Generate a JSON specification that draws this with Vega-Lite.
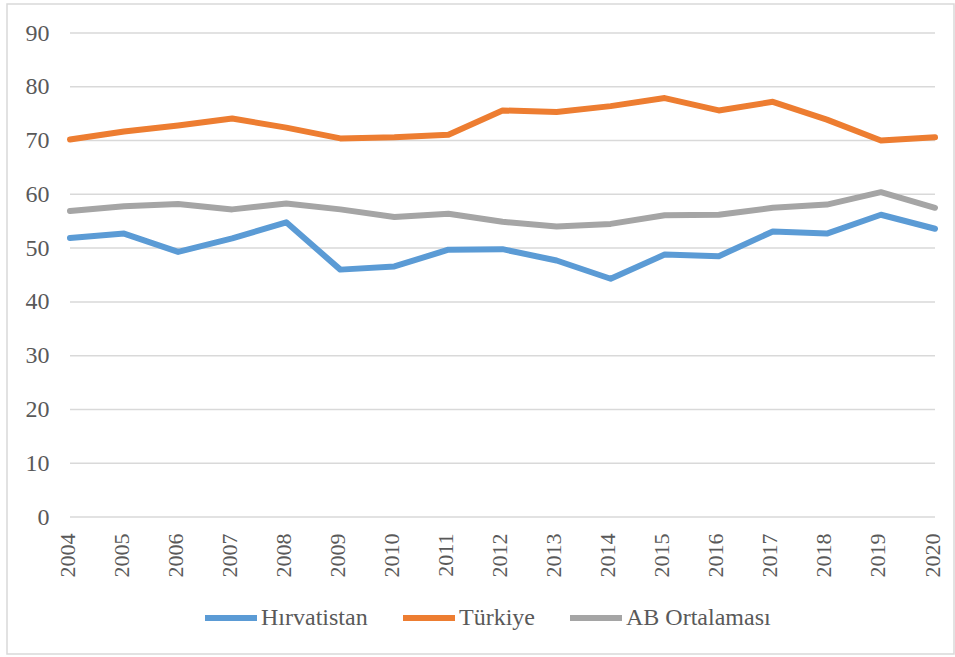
{
  "$schema": "https://vega.github.io/schema/vega-lite/v6.json",
  "autosize": {"type": "none"},
  "padding": {"left": 7, "top": 4, "right": 1, "bottom": 3},
  "width": 947,
  "height": 650,
  "background": "white",
  "config": {
    "view": {"stroke": "#d9d9d9", "strokeWidth": 1.5},
    "font": "'Liberation Serif', serif"
  },
  "datasets": {
    "grid": [{"g": 0}, {"g": 10}, {"g": 20}, {"g": 30}, {"g": 40}, {"g": 50}, {"g": 60}, {"g": 70}, {"g": 80}, {"g": 90}],
    "series": [
      {"yil": 2004, "ulke": "Hırvatistan", "deger": 51.9},
      {"yil": 2005, "ulke": "Hırvatistan", "deger": 52.7},
      {"yil": 2006, "ulke": "Hırvatistan", "deger": 49.3},
      {"yil": 2007, "ulke": "Hırvatistan", "deger": 51.8},
      {"yil": 2008, "ulke": "Hırvatistan", "deger": 54.8},
      {"yil": 2009, "ulke": "Hırvatistan", "deger": 46.0},
      {"yil": 2010, "ulke": "Hırvatistan", "deger": 46.6},
      {"yil": 2011, "ulke": "Hırvatistan", "deger": 49.7},
      {"yil": 2012, "ulke": "Hırvatistan", "deger": 49.8},
      {"yil": 2013, "ulke": "Hırvatistan", "deger": 47.7},
      {"yil": 2014, "ulke": "Hırvatistan", "deger": 44.3},
      {"yil": 2015, "ulke": "Hırvatistan", "deger": 48.8},
      {"yil": 2016, "ulke": "Hırvatistan", "deger": 48.5},
      {"yil": 2017, "ulke": "Hırvatistan", "deger": 53.1},
      {"yil": 2018, "ulke": "Hırvatistan", "deger": 52.7},
      {"yil": 2019, "ulke": "Hırvatistan", "deger": 56.2},
      {"yil": 2020, "ulke": "Hırvatistan", "deger": 53.6},
      {"yil": 2004, "ulke": "Türkiye", "deger": 70.2},
      {"yil": 2005, "ulke": "Türkiye", "deger": 71.7},
      {"yil": 2006, "ulke": "Türkiye", "deger": 72.8},
      {"yil": 2007, "ulke": "Türkiye", "deger": 74.1},
      {"yil": 2008, "ulke": "Türkiye", "deger": 72.4},
      {"yil": 2009, "ulke": "Türkiye", "deger": 70.4},
      {"yil": 2010, "ulke": "Türkiye", "deger": 70.6},
      {"yil": 2011, "ulke": "Türkiye", "deger": 71.1},
      {"yil": 2012, "ulke": "Türkiye", "deger": 75.6},
      {"yil": 2013, "ulke": "Türkiye", "deger": 75.3},
      {"yil": 2014, "ulke": "Türkiye", "deger": 76.4},
      {"yil": 2015, "ulke": "Türkiye", "deger": 77.9},
      {"yil": 2016, "ulke": "Türkiye", "deger": 75.6},
      {"yil": 2017, "ulke": "Türkiye", "deger": 77.2},
      {"yil": 2018, "ulke": "Türkiye", "deger": 73.9},
      {"yil": 2019, "ulke": "Türkiye", "deger": 70.0},
      {"yil": 2020, "ulke": "Türkiye", "deger": 70.6},
      {"yil": 2004, "ulke": "AB Ortalaması", "deger": 56.9},
      {"yil": 2005, "ulke": "AB Ortalaması", "deger": 57.8},
      {"yil": 2006, "ulke": "AB Ortalaması", "deger": 58.2},
      {"yil": 2007, "ulke": "AB Ortalaması", "deger": 57.2},
      {"yil": 2008, "ulke": "AB Ortalaması", "deger": 58.3},
      {"yil": 2009, "ulke": "AB Ortalaması", "deger": 57.2},
      {"yil": 2010, "ulke": "AB Ortalaması", "deger": 55.8},
      {"yil": 2011, "ulke": "AB Ortalaması", "deger": 56.4},
      {"yil": 2012, "ulke": "AB Ortalaması", "deger": 54.9},
      {"yil": 2013, "ulke": "AB Ortalaması", "deger": 54.0},
      {"yil": 2014, "ulke": "AB Ortalaması", "deger": 54.5},
      {"yil": 2015, "ulke": "AB Ortalaması", "deger": 56.1},
      {"yil": 2016, "ulke": "AB Ortalaması", "deger": 56.2},
      {"yil": 2017, "ulke": "AB Ortalaması", "deger": 57.5},
      {"yil": 2018, "ulke": "AB Ortalaması", "deger": 58.1},
      {"yil": 2019, "ulke": "AB Ortalaması", "deger": 60.4},
      {"yil": 2020, "ulke": "AB Ortalaması", "deger": 57.5}
    ]
  },
  "layer": [
    {
      "data": {"name": "grid"},
      "mark": {"type": "rule", "stroke": "#d9d9d9", "strokeWidth": 1.5},
      "encoding": {
        "y": {
          "field": "g", "type": "quantitative",
          "scale": {"domain": [0, 90], "range": [513, 29], "nice": false},
          "axis": {
            "orient": "left", "offset": -63, "values": [0, 10, 20, 30, 40, 50, 60, 70, 80, 90],
            "domain": false, "ticks": false, "grid": false, "labelPadding": 21,
            "labelFont": "'Liberation Serif', serif", "labelFontSize": 24, "labelColor": "#595959", "title": null
          }
        },
        "x": {"datum": 2004, "type": "quantitative"},
        "x2": {"datum": 2020}
      }
    },
    {
      "data": {"name": "series"},
      "mark": {"type": "line", "strokeWidth": 6, "strokeCap": "round", "strokeJoin": "round"},
      "encoding": {
        "x": {
          "field": "yil", "type": "quantitative",
          "scale": {"domain": [2004, 2020], "range": [63, 928], "nice": false, "zero": false},
          "axis": {
            "orient": "bottom", "offset": -137, "values": [2004, 2005, 2006, 2007, 2008, 2009, 2010, 2011, 2012, 2013, 2014, 2015, 2016, 2017, 2018, 2019, 2020],
            "format": "d", "labelAngle": -90, "labelPadding": 16, "labelOffset": -3,
            "domain": false, "ticks": false, "grid": false, "labelOverlap": false,
            "labelFont": "'Liberation Serif', serif", "labelFontSize": 22, "labelColor": "#595959", "title": null
          }
        },
        "y": {"field": "deger", "type": "quantitative"},
        "color": {
          "field": "ulke", "type": "nominal",
          "scale": {"domain": ["Hırvatistan", "Türkiye", "AB Ortalaması"], "range": ["#5B9BD5", "#ED7D31", "#A5A5A5"]},
          "legend": {
            "orient": "none", "legendX": 195, "legendY": 585, "direction": "horizontal", "title": null,
            "symbolType": "stroke", "symbolSize": 2704, "symbolStrokeWidth": 6,
            "labelFont": "'Liberation Serif', serif", "labelFontSize": 24, "labelColor": "#595959",
            "labelOffset": 1, "columnPadding": 23, "padding": 0
          }
        }
      }
    }
  ]
}
